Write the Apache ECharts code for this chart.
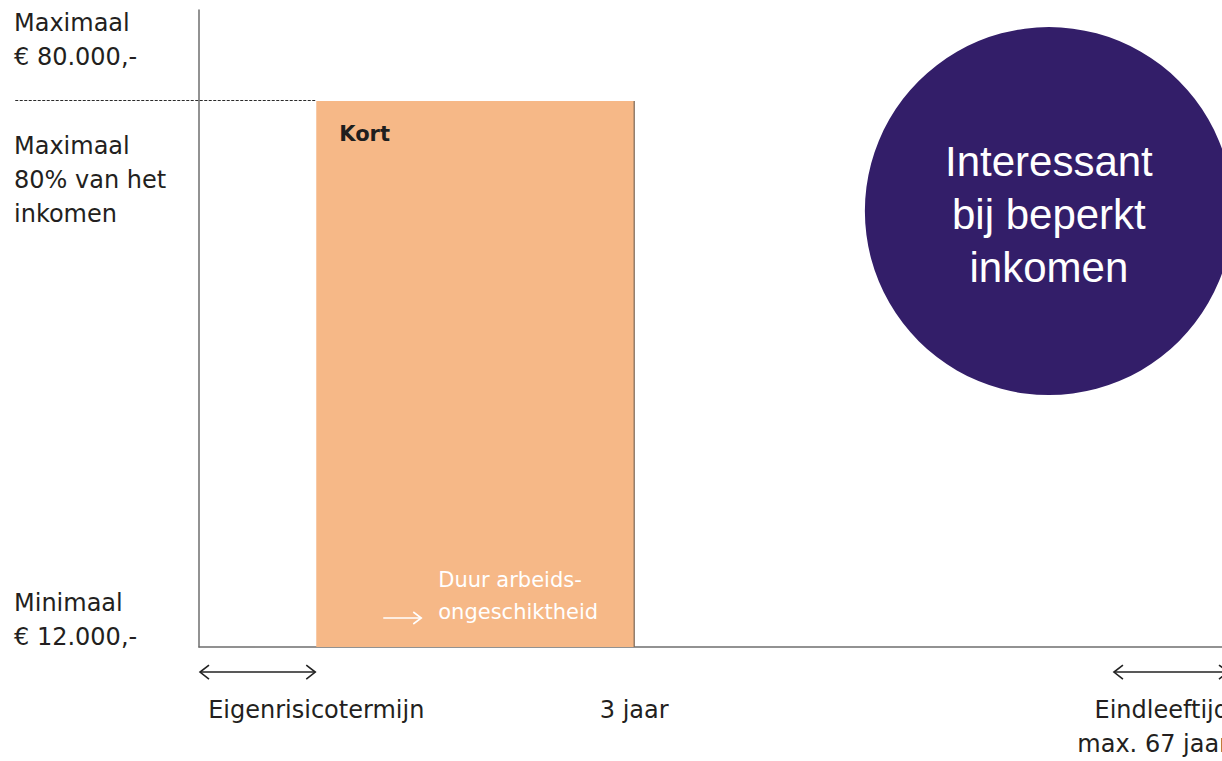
<!DOCTYPE html>
<html><head><meta charset="utf-8">
<script src="https://cdn.jsdelivr.net/npm/echarts@6/dist/echarts.min.js"></script>
<style>html,body{margin:0;padding:0;background:#fff}#c{width:1222px;height:761px}</style>
</head><body><div id="c"></div>
<script>
// Schematic: x in months, y in schematic units
const xMax = 85.2;
const yMax = 70;
const eigenrisicoEnd = 9.7;
const kortEnd = 36;
const kortTop = 60;
const dashStart = -15.2;
const yTickValues = [3, 51.3, 66.7];
const yTickLabels = ['Minimaal\n€ 12.000,-', 'Maximaal\n80% van het\ninkomen', 'Maximaal\n€ 80.000,-'];
const xTickValues = [9.7, 36, 85.2];
const xTickLabels = ['Eigenrisicotermijn', '3 jaar', 'Eindleeftijd\nmax. 67 jaar'];
const arrowY = -2.75;
const arrowSpans = [[0, 9.7], [75.6, 85.2]];
const circlePoint = [70.3, 47.9];
const circleText = 'Interessant\nbij beperkt\ninkomen';
const barLabel = 'Kort';
const barNote = 'Duur arbeids-\nongeschiktheid';

function nearestLabel(vals, labels, v) {
  let bi = 0, bd = Infinity;
  vals.forEach((x, i) => { const d = Math.abs(x - v); if (d < bd) { bd = d; bi = i; } });
  return labels[bi];
}

const chart = echarts.init(document.getElementById('c'), null, { renderer: 'svg' });
const FONT = '"DejaVu Sans", sans-serif';
const TXT = '#231f20';

chart.setOption({
  animation: false,
  backgroundColor: '#ffffff',
  grid: { left: 199, right: -7, top: 10, bottom: 114, outerBoundsMode: 'none' },
  xAxis: {
    type: 'value', min: 0, max: xMax,
    axisLine: { show: true, lineStyle: { color: '#6e6e6e', width: 1.5 } },
    axisTick: { show: false },
    splitLine: { show: false },
    axisLabel: {
      customValues: xTickValues,
      formatter: v => nearestLabel(xTickValues, xTickLabels, v),
      margin: 46, color: TXT, fontSize: 24, fontFamily: FONT, lineHeight: 34,
      alignMaxLabel: 'right'
    }
  },
  yAxis: {
    type: 'value', min: 0, max: yMax,
    axisLine: { show: true, lineStyle: { color: '#6e6e6e', width: 1.5 } },
    axisTick: { show: false },
    splitLine: { show: false },
    axisLabel: {
      customValues: yTickValues,
      formatter: v => nearestLabel(yTickValues, yTickLabels, v),
      align: 'left', verticalAlign: 'middle', margin: 185,
      color: TXT, fontSize: 24, fontFamily: FONT, lineHeight: 34
    }
  },
  series: [
    {
      type: 'custom', clip: false, silent: true, z: 2,
      data: [[eigenrisicoEnd, kortEnd, kortTop]],
      renderItem: function (params, api) {
        const p0 = api.coord([api.value(0), api.value(2)]);
        const p1 = api.coord([api.value(1), 0]);
        const ax = p0[0] + 67, bx = p0[0] + 105, ay = p1[1] - 29;
        return {
          type: 'group', children: [
            { type: 'rect', shape: { x: p0[0], y: p0[1], width: p1[0] - p0[0], height: p1[1] - p0[1] }, style: { fill: '#F6B887' } },
            { type: 'line', shape: { x1: p1[0], y1: p0[1], x2: p1[0], y2: p1[1] }, style: { stroke: '#7a6656', lineWidth: 1.2 } },
            { type: 'text', x: p0[0] + 23, y: p0[1] + 33, style: { text: barLabel, font: 'bold 21px ' + FONT, fill: '#1e1e1e', verticalAlign: 'middle' } },
            { type: 'text', x: p0[0] + 122, y: p1[1] - 19, style: { text: barNote, font: '21px ' + FONT, fill: '#ffffff', verticalAlign: 'bottom', lineHeight: 32 } },
            { type: 'line', shape: { x1: ax, y1: ay, x2: bx, y2: ay }, style: { stroke: '#ffffff', lineWidth: 1.6 } },
            { type: 'polyline', shape: { points: [[bx - 8, ay - 6], [bx, ay], [bx - 8, ay + 6]] }, style: { stroke: '#ffffff', lineWidth: 1.6, fill: null } }
          ]
        };
      }
    },
    {
      type: 'custom', clip: false, silent: true, z: 3,
      data: [[dashStart, eigenrisicoEnd, kortTop]],
      renderItem: function (params, api) {
        const a = api.coord([api.value(0), api.value(2)]);
        const b = api.coord([api.value(1), api.value(2)]);
        return {
          type: 'line',
          shape: { x1: a[0], y1: a[1] - 0.5, x2: b[0], y2: b[1] - 0.5 },
          style: { stroke: '#2a2a2a', lineWidth: 1, lineDash: [3, 1.5] }
        };
      }
    },
    {
      type: 'custom', clip: false, silent: true,
      data: arrowSpans.map(s => [s[0], s[1], arrowY]),
      renderItem: function (params, api) {
        const a = api.coord([api.value(0), api.value(2)]);
        const b = api.coord([api.value(1), api.value(2)]);
        const d = 10, h = 7;
        const st = { stroke: '#222222', lineWidth: 1.6, fill: null };
        return {
          type: 'group', children: [
            { type: 'line', shape: { x1: a[0] + 1, y1: a[1], x2: b[0] - 1, y2: b[1] }, style: st },
            { type: 'polyline', shape: { points: [[a[0] + d, a[1] - h], [a[0] + 1, a[1]], [a[0] + d, a[1] + h]] }, style: st },
            { type: 'polyline', shape: { points: [[b[0] - d, b[1] - h], [b[0] - 1, b[1]], [b[0] - d, b[1] + h]] }, style: st }
          ]
        };
      }
    },
    {
      type: 'scatter', clip: false, silent: true,
      data: [circlePoint],
      symbolSize: 368,
      itemStyle: { color: '#331E69', opacity: 1 },
      label: {
        show: true, position: 'inside', formatter: circleText,
        color: '#ffffff', fontSize: 42, lineHeight: 53,
        fontFamily: '"Liberation Sans", Arial, sans-serif', offset: [0, 3]
      }
    }
  ]
});
</script></body></html>
